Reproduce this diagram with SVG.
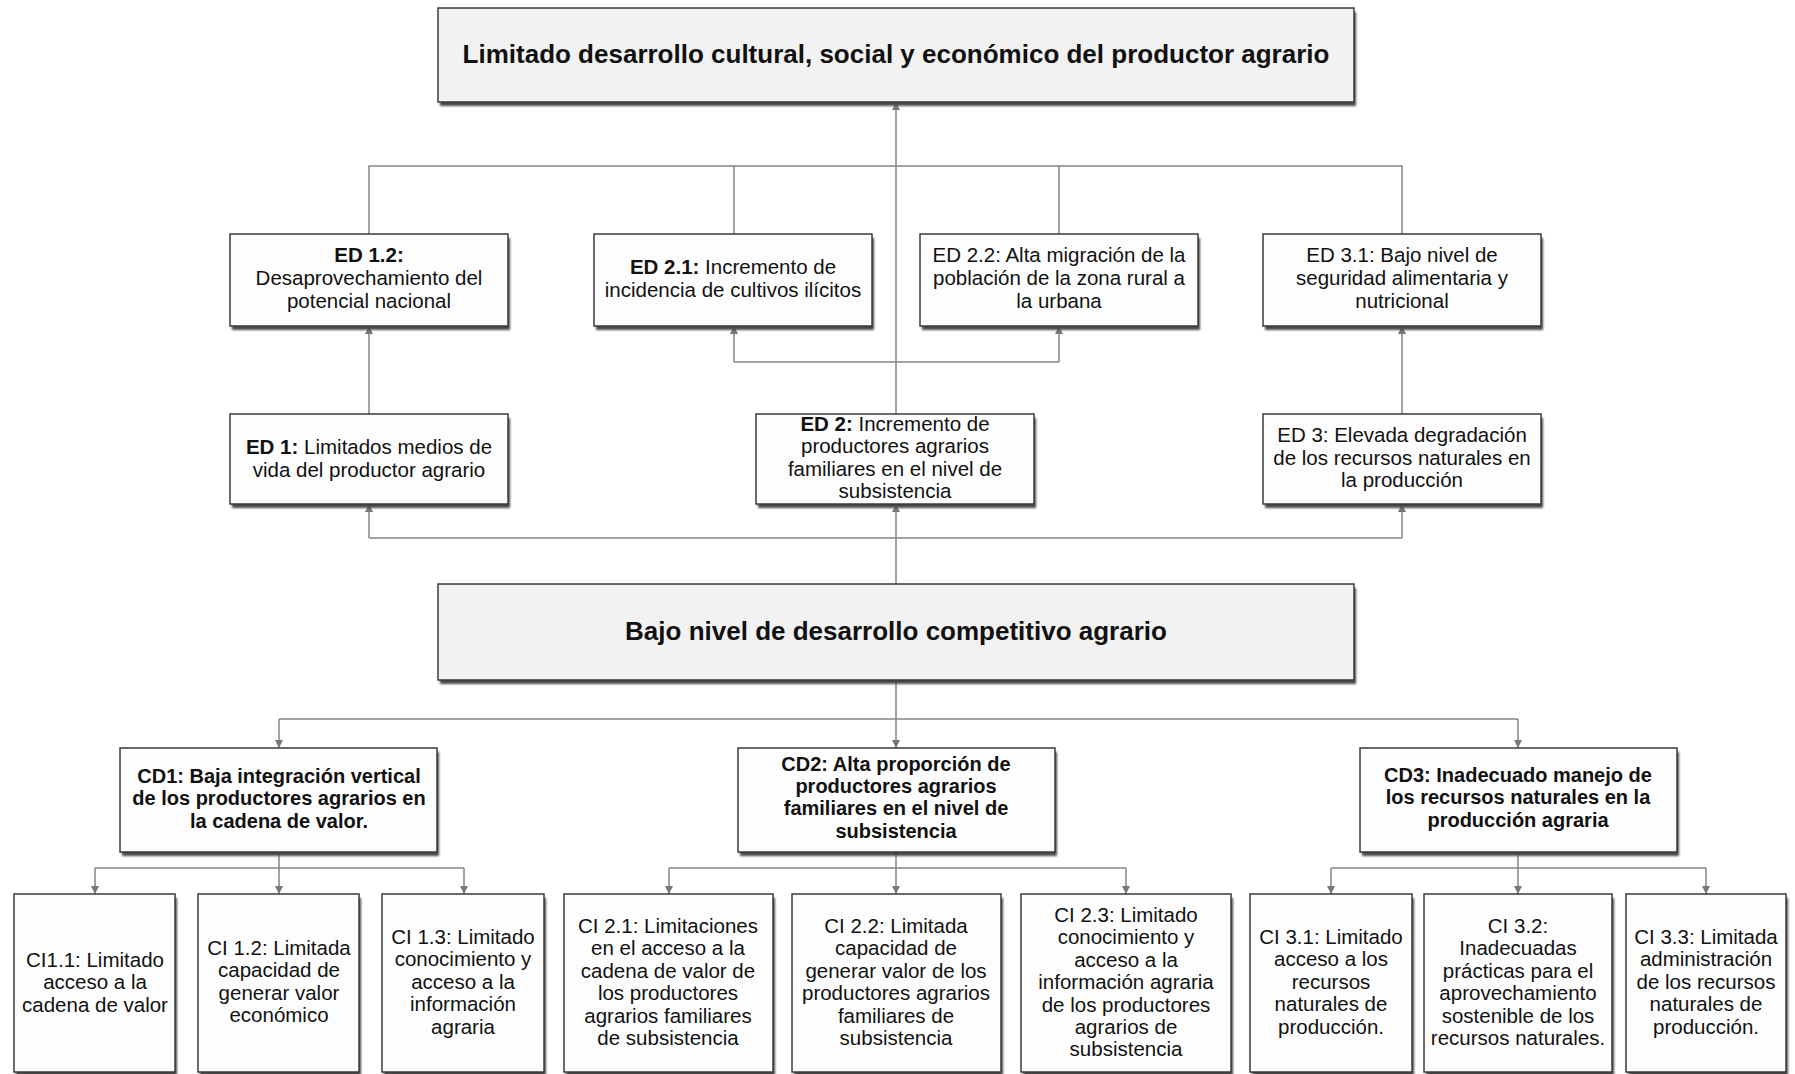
<svg xmlns="http://www.w3.org/2000/svg" width="1795" height="1074" viewBox="0 0 1795 1074">
<defs>
<style>
.box{fill:#fdfdfd;stroke:#3a3a3a;stroke-width:1.5}
.main{fill:#f2f2f2;stroke:#3a3a3a;stroke-width:1.5}
.sh{fill:#4a4a4a;filter:url(#blur)}
.t{font-family:"Liberation Sans",Arial,sans-serif;font-size:20.5px;fill:#111;text-anchor:middle}
.b{font-weight:bold}
.cd{font-family:"Liberation Sans",Arial,sans-serif;font-size:20px;font-weight:bold;fill:#111;text-anchor:middle}
.title{font-family:"Liberation Sans",Arial,sans-serif;font-size:26px;font-weight:bold;fill:#111;text-anchor:middle}
.ln{fill:none;stroke:#858585;stroke-width:1.5}
</style>
<filter id="blur" x="-5%" y="-20%" width="110%" height="140%"><feGaussianBlur stdDeviation="1"/></filter>
<marker id="ah" viewBox="0 0 10 10" refX="10" refY="5" markerWidth="8" markerHeight="8" markerUnits="userSpaceOnUse" orient="auto"><path d="M0,0 L10,5 L0,10 z" fill="#777"/></marker>
</defs>

<g id="connectors">
<!-- ED row 1 to top -->
<path class="ln" d="M896,414 V102" marker-end="url(#ah)"/>
<path class="ln" d="M369,234 V166 H1402 V234"/>
<path class="ln" d="M734,234 V166"/>
<path class="ln" d="M1059,234 V166"/>
<!-- ED1 to ED1.2 -->
<path class="ln" d="M369,414 V326" marker-end="url(#ah)"/>
<!-- ED2 to ED2.1/ED2.2 -->
<path class="ln" d="M734,362 H1059"/>
<path class="ln" d="M734,362 V326" marker-end="url(#ah)"/>
<path class="ln" d="M1059,362 V326" marker-end="url(#ah)"/>
<!-- ED3 to ED3.1 -->
<path class="ln" d="M1402,414 V326" marker-end="url(#ah)"/>
<!-- Bajo to ED1/ED2/ED3 -->
<path class="ln" d="M896,584 V504" marker-end="url(#ah)"/>
<path class="ln" d="M369,538 H1402"/>
<path class="ln" d="M369,538 V504" marker-end="url(#ah)"/>
<path class="ln" d="M1402,538 V504" marker-end="url(#ah)"/>
<!-- Bajo to CDs -->
<path class="ln" d="M896,680 V748" marker-end="url(#ah)"/>
<path class="ln" d="M279,719 H1518"/>
<path class="ln" d="M279,719 V748" marker-end="url(#ah)"/>
<path class="ln" d="M1518,719 V748" marker-end="url(#ah)"/>
<!-- CD1 to CIs -->
<path class="ln" d="M279,852 V894" marker-end="url(#ah)"/>
<path class="ln" d="M95,868 H464"/>
<path class="ln" d="M95,868 V894" marker-end="url(#ah)"/>
<path class="ln" d="M464,868 V894" marker-end="url(#ah)"/>
<!-- CD2 to CIs -->
<path class="ln" d="M896,852 V894" marker-end="url(#ah)"/>
<path class="ln" d="M669,868 H1126"/>
<path class="ln" d="M669,868 V894" marker-end="url(#ah)"/>
<path class="ln" d="M1126,868 V894" marker-end="url(#ah)"/>
<!-- CD3 to CIs -->
<path class="ln" d="M1518,852 V894" marker-end="url(#ah)"/>
<path class="ln" d="M1331,868 H1706"/>
<path class="ln" d="M1331,868 V894" marker-end="url(#ah)"/>
<path class="ln" d="M1706,868 V894" marker-end="url(#ah)"/>
</g>

<g id="top">
<rect class="sh" x="440" y="12" width="916" height="94"/>
<rect class="main" x="438" y="8" width="916" height="94"/>
<text class="title" x="896" y="63">Limitado desarrollo cultural, social y económico del productor agrario</text>
</g>

<g id="ed12">
<rect class="sh" x="232" y="238" width="278" height="92"/>
<rect class="box" x="230" y="234" width="278" height="92"/>
<text class="t" x="369" y="262"><tspan class="b">ED 1.2:</tspan><tspan x="369" dy="23">Desaprovechamiento del</tspan><tspan x="369" dy="23">potencial nacional</tspan></text>
</g>
<g id="ed21">
<rect class="sh" x="596" y="238" width="278" height="92"/>
<rect class="box" x="594" y="234" width="278" height="92"/>
<text class="t" x="733" y="274"><tspan class="b">ED 2.1:</tspan> Incremento de<tspan x="733" dy="23">incidencia de cultivos ilícitos</tspan></text>
</g>
<g id="ed22">
<rect class="sh" x="922" y="238" width="278" height="92"/>
<rect class="box" x="920" y="234" width="278" height="92"/>
<text class="t" x="1059" y="262">ED 2.2: Alta migración de la<tspan x="1059" dy="23">población de la zona rural a</tspan><tspan x="1059" dy="23">la urbana</tspan></text>
</g>
<g id="ed31">
<rect class="sh" x="1265" y="238" width="278" height="92"/>
<rect class="box" x="1263" y="234" width="278" height="92"/>
<text class="t" x="1402" y="262">ED 3.1: Bajo nivel de<tspan x="1402" dy="23">seguridad alimentaria y</tspan><tspan x="1402" dy="23">nutricional</tspan></text>
</g>

<g id="ed1">
<rect class="sh" x="232" y="418" width="278" height="90"/>
<rect class="box" x="230" y="414" width="278" height="90"/>
<text class="t" x="369" y="454"><tspan class="b">ED 1:</tspan> Limitados medios de<tspan x="369" dy="22.5">vida del productor agrario</tspan></text>
</g>
<g id="ed2">
<rect class="sh" x="758" y="418" width="278" height="90"/>
<rect class="box" x="756" y="414" width="278" height="90"/>
<text class="t" x="895" y="431"><tspan class="b">ED 2:</tspan> Incremento de<tspan x="895" dy="22.3">productores agrarios</tspan><tspan x="895" dy="22.3">familiares en el nivel de</tspan><tspan x="895" dy="22.3">subsistencia</tspan></text>
</g>
<g id="ed3">
<rect class="sh" x="1265" y="418" width="278" height="90"/>
<rect class="box" x="1263" y="414" width="278" height="90"/>
<text class="t" x="1402" y="442">ED 3: Elevada degradación<tspan x="1402" dy="22.5">de los recursos naturales en</tspan><tspan x="1402" dy="22.5">la producción</tspan></text>
</g>

<g id="bajo">
<rect class="sh" x="440" y="588" width="916" height="96"/>
<rect class="main" x="438" y="584" width="916" height="96"/>
<text class="title" x="896" y="640">Bajo nivel de desarrollo competitivo agrario</text>
</g>

<g id="cd1">
<rect class="sh" x="122" y="752" width="317" height="104"/>
<rect class="box" x="120" y="748" width="317" height="104"/>
<text class="cd" x="279" y="783">CD1: Baja integración vertical<tspan x="279" dy="22.4">de los productores agrarios en</tspan><tspan x="279" dy="22.4">la cadena de valor.</tspan></text>
</g>
<g id="cd2">
<rect class="sh" x="740" y="752" width="317" height="104"/>
<rect class="box" x="738" y="748" width="317" height="104"/>
<text class="cd" x="896" y="771">CD2: Alta proporción de<tspan x="896" dy="22.2">productores agrarios</tspan><tspan x="896" dy="22.2">familiares en el nivel de</tspan><tspan x="896" dy="22.2">subsistencia</tspan></text>
</g>
<g id="cd3">
<rect class="sh" x="1362" y="752" width="317" height="104"/>
<rect class="box" x="1360" y="748" width="317" height="104"/>
<text class="cd" x="1518" y="782">CD3: Inadecuado manejo de<tspan x="1518" dy="22.4">los recursos naturales en la</tspan><tspan x="1518" dy="22.4">producción agraria</tspan></text>
</g>

<g id="ci11">
<rect class="sh" x="16" y="898" width="161" height="178"/>
<rect class="box" x="14" y="894" width="161" height="178"/>
<text class="t" x="95" y="967">CI1.1: Limitado<tspan x="95" dy="22.4">acceso a la</tspan><tspan x="95" dy="22.4">cadena de valor</tspan></text>
</g>
<g id="ci12">
<rect class="sh" x="200" y="898" width="161" height="178"/>
<rect class="box" x="198" y="894" width="161" height="178"/>
<text class="t" x="279" y="955">CI 1.2: Limitada<tspan x="279" dy="22.4">capacidad de</tspan><tspan x="279" dy="22.4">generar valor</tspan><tspan x="279" dy="22.4">económico</tspan></text>
</g>
<g id="ci13">
<rect class="sh" x="384" y="898" width="162" height="178"/>
<rect class="box" x="382" y="894" width="162" height="178"/>
<text class="t" x="463" y="944">CI 1.3: Limitado<tspan x="463" dy="22.4">conocimiento y</tspan><tspan x="463" dy="22.4">acceso a la</tspan><tspan x="463" dy="22.4">información</tspan><tspan x="463" dy="22.4">agraria</tspan></text>
</g>
<g id="ci21">
<rect class="sh" x="566" y="898" width="209" height="178"/>
<rect class="box" x="564" y="894" width="209" height="178"/>
<text class="t" x="668" y="933">CI 2.1: Limitaciones<tspan x="668" dy="22.4">en el acceso a la</tspan><tspan x="668" dy="22.4">cadena de valor de</tspan><tspan x="668" dy="22.4">los productores</tspan><tspan x="668" dy="22.4">agrarios familiares</tspan><tspan x="668" dy="22.4">de subsistencia</tspan></text>
</g>
<g id="ci22">
<rect class="sh" x="794" y="898" width="209" height="178"/>
<rect class="box" x="792" y="894" width="209" height="178"/>
<text class="t" x="896" y="933">CI 2.2: Limitada<tspan x="896" dy="22.4">capacidad de</tspan><tspan x="896" dy="22.4">generar valor de los</tspan><tspan x="896" dy="22.4">productores agrarios</tspan><tspan x="896" dy="22.4">familiares de</tspan><tspan x="896" dy="22.4">subsistencia</tspan></text>
</g>
<g id="ci23">
<rect class="sh" x="1023" y="898" width="210" height="178"/>
<rect class="box" x="1021" y="894" width="210" height="178"/>
<text class="t" x="1126" y="922">CI 2.3: Limitado<tspan x="1126" dy="22.4">conocimiento y</tspan><tspan x="1126" dy="22.4">acceso a la</tspan><tspan x="1126" dy="22.4">información agraria</tspan><tspan x="1126" dy="22.4">de los productores</tspan><tspan x="1126" dy="22.4">agrarios de</tspan><tspan x="1126" dy="22.4">subsistencia</tspan></text>
</g>
<g id="ci31">
<rect class="sh" x="1252" y="898" width="162" height="178"/>
<rect class="box" x="1250" y="894" width="162" height="178"/>
<text class="t" x="1331" y="944">CI 3.1: Limitado<tspan x="1331" dy="22.4">acceso a los</tspan><tspan x="1331" dy="22.4">recursos</tspan><tspan x="1331" dy="22.4">naturales de</tspan><tspan x="1331" dy="22.4">producción.</tspan></text>
</g>
<g id="ci32">
<rect class="sh" x="1426" y="898" width="188" height="178"/>
<rect class="box" x="1424" y="894" width="188" height="178"/>
<text class="t" x="1518" y="933">CI 3.2:<tspan x="1518" dy="22.4">Inadecuadas</tspan><tspan x="1518" dy="22.4">prácticas para el</tspan><tspan x="1518" dy="22.4">aprovechamiento</tspan><tspan x="1518" dy="22.4">sostenible de los</tspan><tspan x="1518" dy="22.4">recursos naturales.</tspan></text>
</g>
<g id="ci33">
<rect class="sh" x="1628" y="898" width="160" height="178"/>
<rect class="box" x="1626" y="894" width="160" height="178"/>
<text class="t" x="1706" y="944">CI 3.3: Limitada<tspan x="1706" dy="22.4">administración</tspan><tspan x="1706" dy="22.4">de los recursos</tspan><tspan x="1706" dy="22.4">naturales de</tspan><tspan x="1706" dy="22.4">producción.</tspan></text>
</g>
</svg>
